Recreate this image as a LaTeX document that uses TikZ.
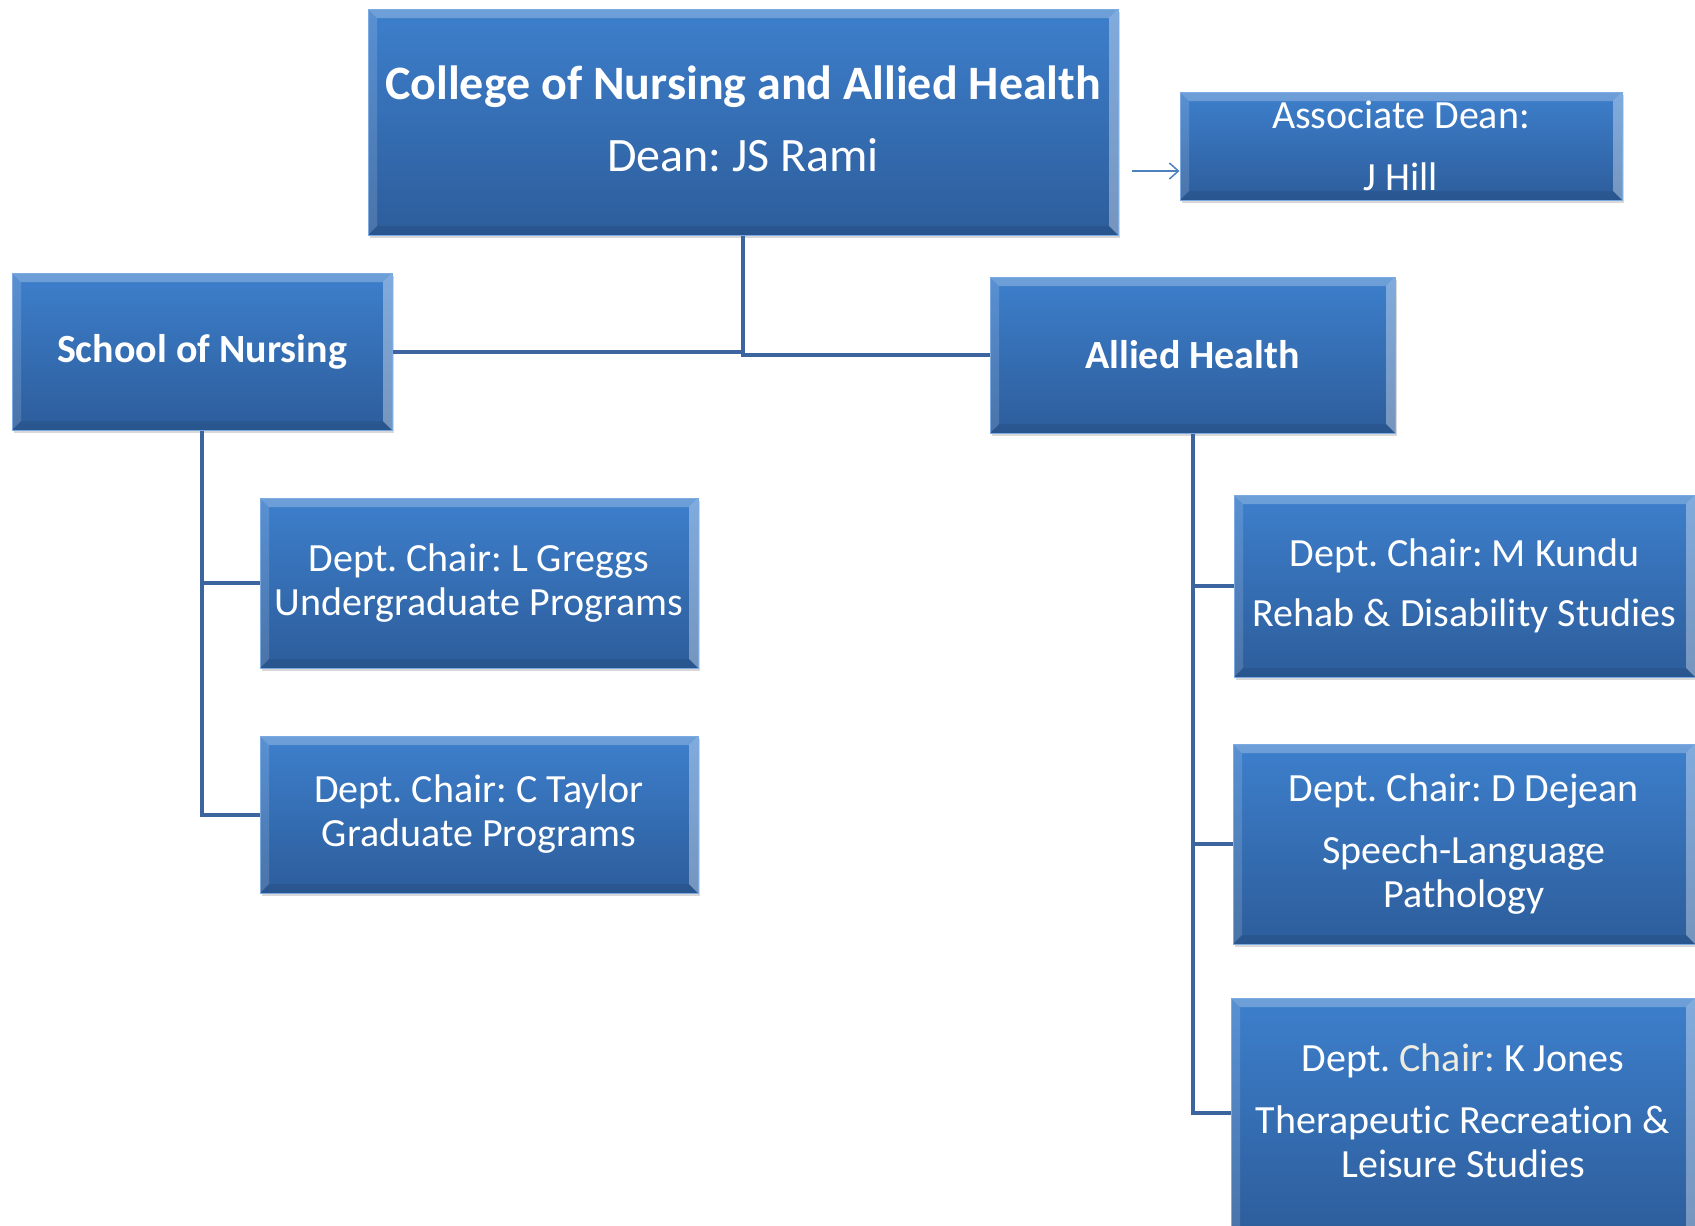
\documentclass[tikz,border=0pt]{standalone}
\usepackage{fontspec}
\setmainfont{Carlito}[Ligatures=NoCommon]
\frenchspacing
\usetikzlibrary{shadows,arrows.meta}
\definecolor{boxtop}{RGB}{61,127,204}
\definecolor{boxbot}{RGB}{45,93,155}
\definecolor{edgeline}{RGB}{125,170,224}
\definecolor{conn}{RGB}{60,100,158}
\definecolor{arrowc}{RGB}{79,129,189}
\definecolor{cream}{RGB}{238,236,225}
\newcommand{\upby}[2]{\raisebox{#1}[\height][\depth]{#2}}
\tikzset{
  bevel/.style={path picture={
    \fill[white, opacity=0.25] (path picture bounding box.north west) -- (path picture bounding box.north east)
      -- ([xshift=-9pt,yshift=-9pt]path picture bounding box.north east) -- ([xshift=9pt,yshift=-9pt]path picture bounding box.north west) -- cycle;
    \fill[white, opacity=0.14] (path picture bounding box.north west) -- ([xshift=9pt,yshift=-9pt]path picture bounding box.north west)
      -- ([xshift=9pt,yshift=9pt]path picture bounding box.south west) -- (path picture bounding box.south west) -- cycle;
    \fill[white, opacity=0.35] (path picture bounding box.north east) -- ([xshift=-9pt,yshift=-9pt]path picture bounding box.north east)
      -- ([xshift=-9pt,yshift=9pt]path picture bounding box.south east) -- (path picture bounding box.south east) -- cycle;
    \fill[black, opacity=0.08] (path picture bounding box.south west) -- ([xshift=9pt,yshift=9pt]path picture bounding box.south west)
      -- ([xshift=-9pt,yshift=9pt]path picture bounding box.south east) -- (path picture bounding box.south east) -- cycle;
  }},
  orgbox/.style={rectangle, top color=boxtop, bottom color=boxbot, draw=edgeline, line width=1pt,
    text=white, align=center, inner sep=0pt, bevel,
    drop shadow={shadow xshift=2pt, shadow yshift=-3pt, opacity=0.3},
    font=\fontsize{40}{44}\selectfont},
  connline/.style={draw=conn, line width=4pt},
}
\begin{document}
\begin{tikzpicture}[x=1pt,y=-1pt]
\fill[white] (0,0) rectangle (1695,1226);
\useasboundingbox (0,0) rectangle (1695,1226);

\node[orgbox, minimum width=750pt, minimum height=226pt, font=\fontsize{48}{53}\selectfont] (top) at (743,122)
  {\upby{3pt}{\textbf{College of Nursing and Allied Health}}\\[19pt]\upby{3pt}{Dean: JS Rami}};
\node[orgbox, minimum width=442pt, minimum height=108pt] (assoc) at (1401,146)
  {Associate Dean:\\[18pt]J Hill};
\node[orgbox, minimum width=380pt, minimum height=157pt] (school) at (202,351.5)
  {\textbf{School of Nursing}};
\node[orgbox, minimum width=405pt, minimum height=156pt] (allied) at (1192.5,355)
  {\textbf{Allied Health}};
\node[orgbox, minimum width=438pt, minimum height=170pt] (greggs) at (479,583)
  {Dept. Chair: L Greggs\\Undergraduate Programs};
\node[orgbox, minimum width=438pt, minimum height=157pt] (taylor) at (479,814.5)
  {Dept. Chair: C Taylor\\Graduate Programs};
\node[orgbox, minimum width=461pt, minimum height=182pt] (kundu) at (1464.5,586)
  {Dept. Chair: M Kundu\\[16pt]Rehab \& Disability Studies};
\node[orgbox, minimum width=462pt, minimum height=200pt] (dejean) at (1464,844)
  {Dept. Chair: D Dejean\\[18pt]Speech-Language\\Pathology};
\node[orgbox, minimum width=464pt, minimum height=238pt] (jones) at (1463,1117)
  {\upby{6pt}{Dept. {\color{cream}Chair:} K Jones}\\[18pt]\upby{6pt}{Therapeutic Recreation \&}\\\upby{6pt}{Leisure Studies}};

\draw[connline] (top.south) |- (allied.west);
\draw[connline] (school.east) -| (top.south);
\draw[connline] (school.south) |- (greggs.west);
\draw[connline] (school.south) |- (taylor.west);
\draw[connline] (allied.south) |- (kundu.west);
\draw[connline] (allied.south) |- (dejean.west);
\draw[connline] (allied.south) |- ([yshift=4pt]jones.west);

\coordinate (arr) at (1132,171);
\draw[arrowc, line width=1.5pt, -{Straight Barb[length=9pt,width=16pt]}] (arr) -- (arr -| assoc.west);
\end{tikzpicture}
\end{document}
